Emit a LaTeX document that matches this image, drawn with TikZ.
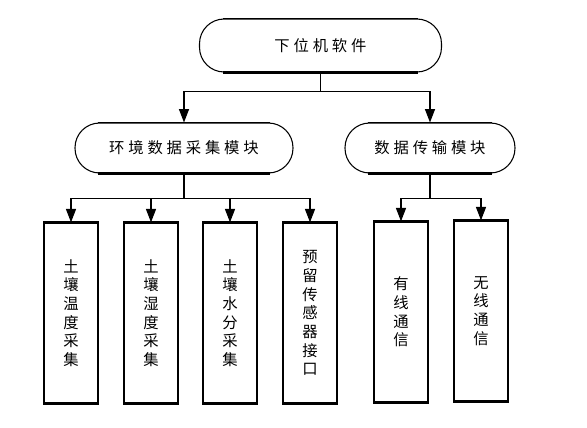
\documentclass[tikz,border=0pt]{standalone}
\usepackage{fontspec}
\newfontfamily\cjk{Noto Sans CJK SC}
\newfontfamily\cjkwide[LetterSpace=25]{Noto Sans CJK SC}
\usetikzlibrary{arrows.meta,positioning}

\begin{document}
\begin{tikzpicture}[x=0.75pt,y=-0.75pt,>={Triangle[length=10pt,width=7.5pt]},
  module/.style={draw,line width=0.8pt,rounded corners=18.5pt,minimum height=37.5pt,
    inner sep=0pt,font=\cjkwide\fontsize{11.5pt}{13pt}\selectfont},
  leaf/.style={draw,line width=1pt,minimum width=40.5pt,minimum height=135pt,
    inner sep=0pt,align=center,font=\cjk\fontsize{11.5pt}{14pt}\selectfont},
  link/.style={line width=0.8pt}]
  \useasboundingbox (0,0) rectangle (587,428);

  % levels
  \node[module,minimum width=181.5pt,minimum height=39.75pt] (soft) at (320.5,45.5) {下位机软件};
  \node[module,minimum width=163.5pt] (env) at (184,148) {环境数据采集模块};
  \node[module,minimum width=127.5pt] (trans) at (430,148) {数据传输模块};

  \node[leaf] (temp) at (71,313) {土\\壤\\温\\度\\采\\集};
  \node[leaf] (hum) at (151,313) {土\\壤\\湿\\度\\采\\集};
  \node[leaf] (water) at (230,313) {土\\壤\\水\\分\\采\\集};
  \node[leaf] (spare) at (310,313) {预\\留\\传\\感\\器\\接\\口};
  \node[leaf] (wired) at (401,312) {有\\线\\通\\信};
  \node[leaf] (wless) at (481,311) {无\\线\\通\\信};

  % bold top and bottom edges
  \foreach \n in {soft,env,trans}{
    \draw[line width=1.4pt] ([xshift=18pt]\n.north west) -- ([xshift=-18pt]\n.north east);
    \draw[line width=1.6pt] ([xshift=18pt]\n.south west) -- ([xshift=-18pt]\n.south east);
  }
  \foreach \n in {temp,hum,water,spare,wired,wless}{
    \draw[line width=2pt] (\n.north west) -- (\n.north east);
    \draw[line width=2pt] (\n.south west) -- (\n.south east);
  }

  % connectors
  \draw[link,->] (soft.south) -- ++(0,19) -| (env.north);
  \draw[link,->] (soft.south) -- ++(0,19) -| (trans.north);
  \foreach \n in {temp,hum,water,spare}
    \draw[link,->] (env.south) -- ++(0,25) -| (\n.north);
  \foreach \n in {wired,wless}
    \draw[link,->] (trans.south) -- ++(0,25) -| (\n.north);
\end{tikzpicture}
\end{document}
